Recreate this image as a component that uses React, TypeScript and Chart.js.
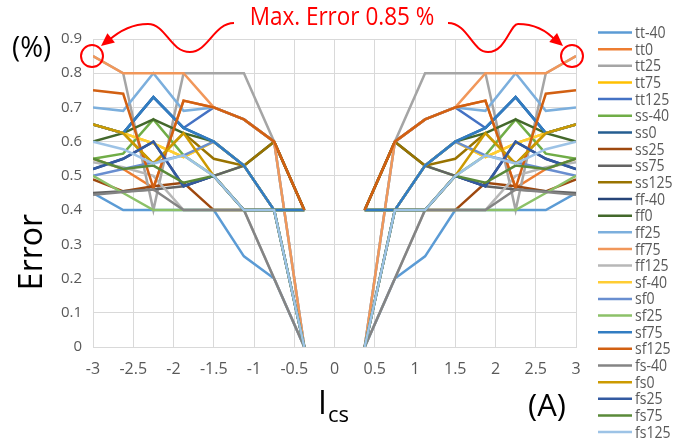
import React, { useEffect, useRef } from "react";
import { Chart, registerables } from "chart.js";
Chart.register(...registerables);

const xLeft = [-3, -2.625, -2.25, -1.875, -1.5, -1.125, -0.75, -0.375];
const xRight = [0.375, 0.75, 1.125, 1.5, 1.875, 2.25, 2.625, 3];
const xTickValues = [-3, -2.5, -2, -1.5, -1, -0.5, 0, 0.5, 1, 1.5, 2, 2.5, 3];
const xTickLabels = ["-3", "-2.5", "-2", "-1.5", "-1", "-0.5", "0", "0.5", "1", "1.5", "2", "2.5", "3"];
const yTickValues = [0, 0.1, 0.2, 0.3, 0.4, 0.5, 0.6, 0.7, 0.8, 0.9];
const yTickLabels = ["0", "0.1", "0.2", "0.3", "0.4", "0.5", "0.6", "0.7", "0.8", "0.9"];

const seriesNames = [
  "tt-40", "tt0", "tt25", "tt75", "tt125",
  "ss-40", "ss0", "ss25", "ss75", "ss125",
  "ff-40", "ff0", "ff25", "ff75", "ff125",
  "sf-40", "sf0", "sf25", "sf75", "sf125",
  "fs-40", "fs0", "fs25", "fs75", "fs125",
];
const seriesColors = [
  "#5B9BD5", "#ED7D31", "#A5A5A5", "#FFC000", "#4472C4",
  "#70AD47", "#255E91", "#9E480E", "#636363", "#997300",
  "#264478", "#43682B", "#7CAFDD", "#F1975A", "#B7B7B7",
  "#FFCD33", "#698ED0", "#8CC168", "#327DC2", "#D26012",
  "#848484", "#CC9A00", "#335AA1", "#5A8A39", "#9DC3E6",
];

const tt_40 = [0.45, 0.40, 0.40, 0.40, 0.40, 0.265, 0.20, 0.00, 0.00, 0.20, 0.265, 0.40, 0.40, 0.40, 0.40, 0.45];
const tt0 = [0.55, 0.52, 0.465, 0.72, 0.70, 0.665, 0.60, 0.40, 0.40, 0.60, 0.665, 0.70, 0.72, 0.465, 0.52, 0.55];
const tt25 = [0.85, 0.80, 0.40, 0.80, 0.80, 0.80, 0.60, 0.00, 0.00, 0.60, 0.80, 0.80, 0.80, 0.40, 0.80, 0.85];
const tt75 = [0.65, 0.625, 0.595, 0.555, 0.60, 0.53, 0.40, 0.40, 0.40, 0.40, 0.53, 0.60, 0.555, 0.595, 0.625, 0.65];
const tt125 = [0.65, 0.625, 0.73, 0.64, 0.70, 0.665, 0.60, 0.40, 0.40, 0.60, 0.665, 0.70, 0.64, 0.73, 0.625, 0.65];
const ss_40 = [0.55, 0.565, 0.665, 0.56, 0.50, 0.53, 0.60, 0.40, 0.40, 0.60, 0.53, 0.50, 0.56, 0.665, 0.565, 0.55];
const ss0 = [0.65, 0.625, 0.73, 0.64, 0.60, 0.53, 0.40, 0.40, 0.40, 0.40, 0.53, 0.60, 0.64, 0.73, 0.625, 0.65];
const ss25 = [0.49, 0.455, 0.47, 0.48, 0.40, 0.40, 0.40, 0.40, 0.40, 0.40, 0.40, 0.40, 0.48, 0.47, 0.455, 0.49];
const ss75 = [0.45, 0.455, 0.46, 0.47, 0.50, 0.53, 0.60, 0.40, 0.40, 0.60, 0.53, 0.50, 0.47, 0.46, 0.455, 0.45];
const ss125 = [0.65, 0.625, 0.535, 0.625, 0.55, 0.53, 0.60, 0.40, 0.40, 0.60, 0.53, 0.55, 0.625, 0.535, 0.625, 0.65];
const ff_40 = [0.52, 0.55, 0.60, 0.47, 0.50, 0.40, 0.40, 0.00, 0.00, 0.40, 0.40, 0.50, 0.47, 0.60, 0.55, 0.52];
const ff0 = [0.60, 0.625, 0.665, 0.625, 0.60, 0.53, 0.40, 0.40, 0.40, 0.40, 0.53, 0.60, 0.625, 0.665, 0.625, 0.60];
const ff25 = [0.70, 0.69, 0.80, 0.69, 0.70, 0.665, 0.60, 0.00, 0.00, 0.60, 0.665, 0.70, 0.69, 0.80, 0.69, 0.70];
const ff75 = [0.85, 0.80, 0.80, 0.80, 0.70, 0.665, 0.60, 0.00, 0.00, 0.60, 0.665, 0.70, 0.80, 0.80, 0.80, 0.85];
const ff125 = [0.54, 0.525, 0.50, 0.40, 0.40, 0.40, 0.20, 0.00, 0.00, 0.20, 0.40, 0.40, 0.40, 0.50, 0.525, 0.54];
const sf_40 = [0.65, 0.625, 0.595, 0.555, 0.60, 0.53, 0.40, 0.40, 0.40, 0.40, 0.53, 0.60, 0.555, 0.595, 0.625, 0.65];
const sf0 = [0.50, 0.52, 0.54, 0.56, 0.60, 0.53, 0.40, 0.40, 0.40, 0.40, 0.53, 0.60, 0.56, 0.54, 0.52, 0.50];
const sf25 = [0.50, 0.45, 0.40, 0.40, 0.40, 0.40, 0.40, 0.40, 0.40, 0.40, 0.40, 0.40, 0.40, 0.40, 0.45, 0.50];
const sf75 = [0.65, 0.625, 0.73, 0.64, 0.60, 0.53, 0.40, 0.40, 0.40, 0.40, 0.53, 0.60, 0.64, 0.73, 0.625, 0.65];
const sf125 = [0.75, 0.74, 0.465, 0.72, 0.70, 0.665, 0.60, 0.40, 0.40, 0.60, 0.665, 0.70, 0.72, 0.465, 0.74, 0.75];
const fs_40 = [0.445, 0.453, 0.46, 0.40, 0.40, 0.40, 0.20, 0.00, 0.00, 0.20, 0.40, 0.40, 0.40, 0.46, 0.453, 0.445];
const fs0 = [0.65, 0.625, 0.535, 0.625, 0.50, 0.40, 0.40, 0.00, 0.00, 0.40, 0.40, 0.50, 0.625, 0.535, 0.625, 0.65];
const fs25 = [0.52, 0.55, 0.60, 0.47, 0.50, 0.40, 0.40, 0.00, 0.00, 0.40, 0.40, 0.50, 0.47, 0.60, 0.55, 0.52];
const fs75 = [0.55, 0.52, 0.53, 0.48, 0.50, 0.40, 0.40, 0.00, 0.00, 0.40, 0.40, 0.50, 0.48, 0.53, 0.52, 0.55];
const fs125 = [0.60, 0.578, 0.536, 0.56, 0.50, 0.40, 0.40, 0.00, 0.00, 0.40, 0.40, 0.50, 0.56, 0.536, 0.578, 0.60];

const seriesValues = [
  tt_40, tt0, tt25, tt75, tt125,
  ss_40, ss0, ss25, ss75, ss125,
  ff_40, ff0, ff25, ff75, ff125,
  sf_40, sf0, sf25, sf75, sf125,
  fs_40, fs0, fs25, fs75, fs125,
];

const annotationText = "Max. Error 0.85 %";
const maxErrorValue = 0.85;
const FONT = "'Open Sans', 'Noto Sans', sans-serif";

function toPoints(vals: number[]) {
  const pts: { x: number; y: number | null }[] = [];
  xLeft.forEach((x, i) => pts.push({ x, y: vals[i] }));
  pts.push({ x: 0, y: null });
  xRight.forEach((x, i) => pts.push({ x, y: vals[i + 8] }));
  return pts;
}

function arrowHead(ctx: CanvasRenderingContext2D, fx: number, fy: number, tx: number, ty: number) {
  const ang = Math.atan2(ty - fy, tx - fx);
  const len = 13;
  const w = 6;
  ctx.beginPath();
  ctx.moveTo(tx, ty);
  ctx.lineTo(tx - len * Math.cos(ang) + w * Math.sin(ang), ty - len * Math.sin(ang) - w * Math.cos(ang));
  ctx.lineTo(tx - len * Math.cos(ang) - w * Math.sin(ang), ty - len * Math.sin(ang) + w * Math.cos(ang));
  ctx.closePath();
  ctx.fill();
}

const decorPlugin = {
  id: "decor",
  afterDraw(chart: any) {
    const ctx: CanvasRenderingContext2D = chart.ctx;
    const xs = chart.scales.x;
    const ys = chart.scales.y;
    ctx.save();
    // legend
    ctx.font = `16px ${FONT}`;
    ctx.textBaseline = "middle";
    ctx.textAlign = "left";
    seriesNames.forEach((name, i) => {
      const y = 32.5 + i * 16.65;
      ctx.strokeStyle = seriesColors[i];
      ctx.lineWidth = 2.5;
      ctx.beginPath();
      ctx.moveTo(598, y);
      ctx.lineTo(632, y);
      ctx.stroke();
      ctx.fillStyle = "#595959";
      ctx.save();
      ctx.translate(635, y);
      ctx.scale(0.88, 1);
      ctx.fillText(name, 0, 1);
      ctx.restore();
    });
    // axis titles
    ctx.fillStyle = "#000000";
    ctx.save();
    ctx.translate(33, 252);
    ctx.rotate(-Math.PI / 2);
    ctx.textAlign = "center";
    ctx.font = `32px ${FONT}`;
    ctx.fillText("Error", 0, 0);
    ctx.restore();

    ctx.textAlign = "left";
    ctx.textBaseline = "middle";
    ctx.font = `30px ${FONT}`;
    ctx.save();
    ctx.translate(12, 48);
    ctx.scale(0.92, 1);
    ctx.fillText("(%)", 0, 0);
    ctx.restore();

    ctx.textBaseline = "alphabetic";
    ctx.font = `32px ${FONT}`;
    ctx.fillText("I", 318, 414);
    ctx.font = `22px ${FONT}`;
    ctx.fillText("cs", 328, 422);

    ctx.font = `31px ${FONT}`;
    ctx.fillText("(A)", 528, 416);

    // red annotation
    ctx.fillStyle = "#FF0000";
    ctx.strokeStyle = "#FF0000";
    ctx.textAlign = "center";
    ctx.textBaseline = "middle";
    ctx.font = `25px ${FONT}`;
    ctx.save();
    ctx.translate(342, 18);
    ctx.scale(0.9, 1);
    ctx.fillText(annotationText, 0, 0);
    ctx.restore();

    const cy = ys.getPixelForValue(maxErrorValue);
    const lx = xs.getPixelForValue(-3) - 1;
    const rx = xs.getPixelForValue(3) - 4;
    ctx.lineWidth = 2;
    ctx.beginPath();
    ctx.arc(lx, cy, 11, 0, Math.PI * 2);
    ctx.stroke();
    ctx.beginPath();
    ctx.arc(rx, cy, 11, 0, Math.PI * 2);
    ctx.stroke();

    // left wavy arrow
    ctx.beginPath();
    ctx.moveTo(234, 23);
    ctx.bezierCurveTo(214, 23, 208, 52, 190, 52);
    ctx.bezierCurveTo(170, 52, 166, 24, 148, 24);
    ctx.bezierCurveTo(132, 24, 118, 32, 108, 41);
    ctx.stroke();
    arrowHead(ctx, 116, 34, 101, 46);
    // right wavy arrow
    ctx.beginPath();
    ctx.moveTo(448, 23);
    ctx.bezierCurveTo(468, 23, 472, 52, 488, 52);
    ctx.bezierCurveTo(506, 52, 510, 24, 518, 24);
    ctx.bezierCurveTo(536, 24, 548, 32, 556, 41);
    ctx.stroke();
    arrowHead(ctx, 549, 34, 563, 46);
    ctx.restore();
  },
};

export default function App() {
  const ref = useRef<HTMLCanvasElement | null>(null);
  useEffect(() => {
    if (!ref.current) return;
    const datasets = seriesNames.map((name, i) => ({
      label: name,
      data: toPoints(seriesValues[i]),
      borderColor: seriesColors[i],
      backgroundColor: seriesColors[i],
      borderWidth: 2.5,
      pointRadius: 0,
      fill: false,
      spanGaps: false,
      tension: 0,
      order: seriesNames.length - i,
    }));
    const chart = new Chart(ref.current, {
      type: "line",
      data: { datasets } as any,
      options: {
        responsive: false,
        animation: false,
        events: [],
        layout: { padding: { left: 0, right: 97, top: 39, bottom: 0 } },
        plugins: { legend: { display: false }, tooltip: { enabled: false } },
        scales: {
          x: {
            type: "linear",
            min: -3,
            max: 3,
            afterBuildTicks: (s: any) => {
              s.ticks = xTickValues.map((v) => ({ value: v }));
            },
            afterFit: (s: any) => {
              s.height = 101;
            },
            ticks: {
              callback: (_v: any, i: number) => xTickLabels[i],
              font: { family: FONT, size: 16 },
              color: "#595959",
              padding: 13,
              maxRotation: 0,
              autoSkip: false,
            },
            grid: { color: "#D9D9D9", lineWidth: 1, drawTicks: false },
            border: { color: "#D9D9D9" },
          },
          y: {
            type: "linear",
            min: 0,
            max: 0.9,
            afterBuildTicks: (s: any) => {
              s.ticks = yTickValues.map((v) => ({ value: v }));
            },
            afterFit: (s: any) => {
              s.width = 93;
            },
            ticks: {
              callback: (_v: any, i: number) => yTickLabels[i],
              font: { family: FONT, size: 15 },
              color: "#595959",
              padding: 11,
              autoSkip: false,
            },
            grid: { color: "#D9D9D9", lineWidth: 1, drawTicks: false },
            border: { color: "#D9D9D9" },
          },
        },
      } as any,
      plugins: [decorPlugin],
    });
    return () => chart.destroy();
  }, []);
  return (
    <div style={{ position: "fixed", left: 0, top: 0, width: 673, height: 448, background: "#fff" }}>
      <canvas ref={ref} width={673} height={448} style={{ width: 673, height: 448, display: "block" }} />
    </div>
  );
}
